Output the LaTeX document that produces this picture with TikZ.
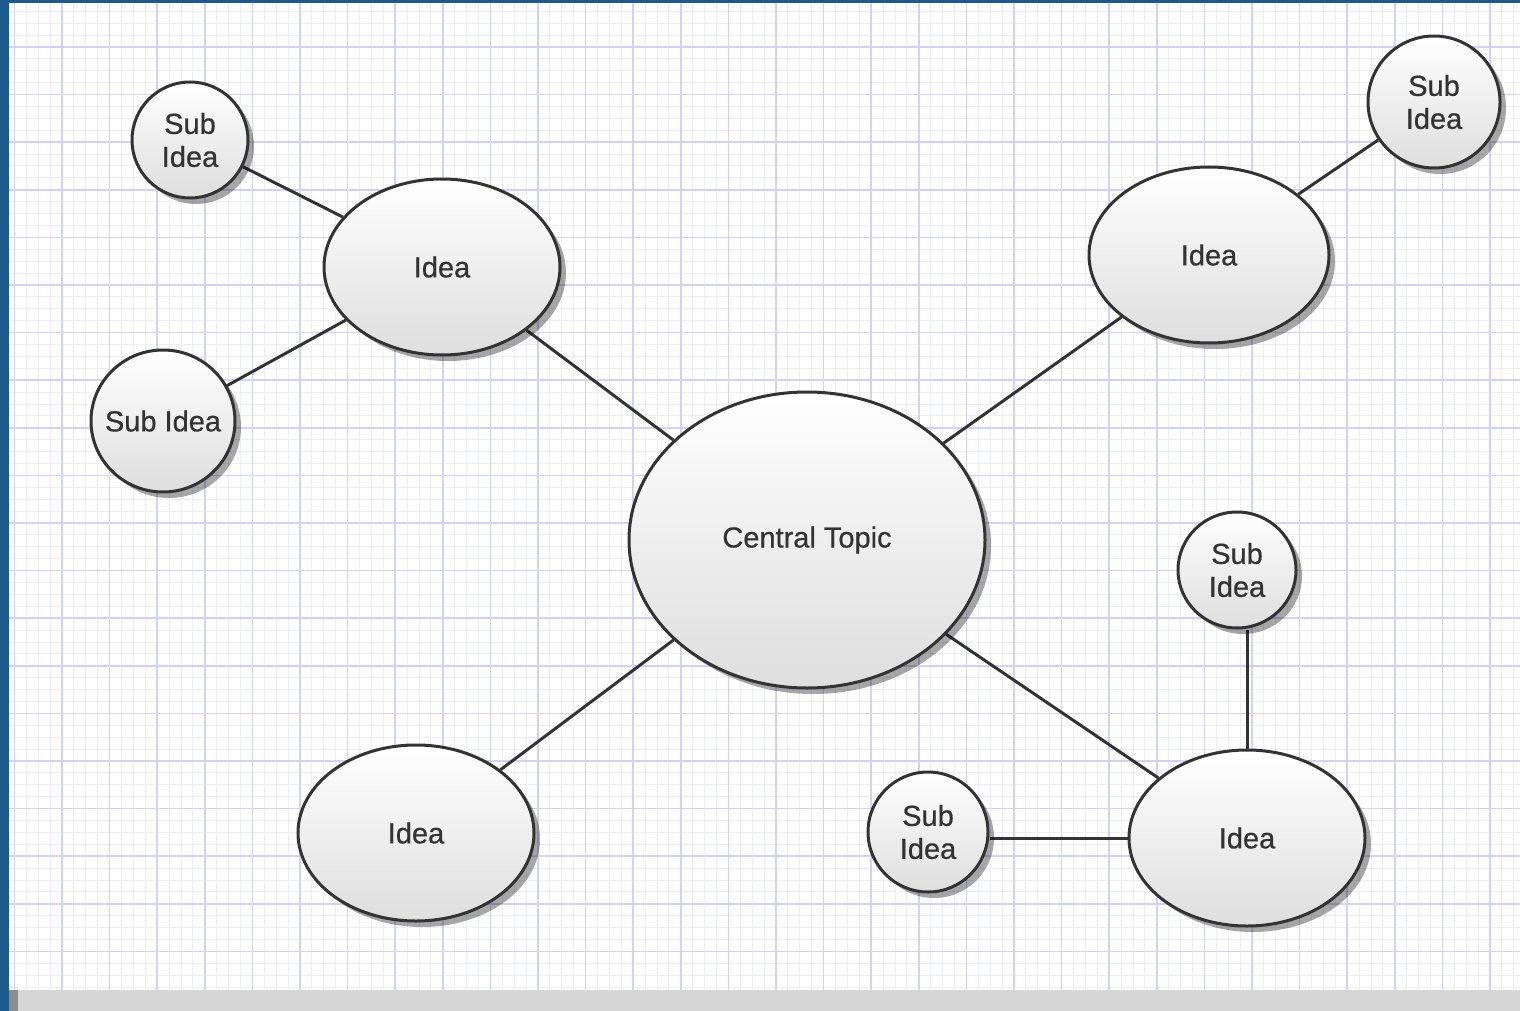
\documentclass[tikz,border=0pt]{standalone}
\usepackage{fontspec}
\setmainfont{Liberation Sans}
\newfontfamily\bubblefont[FakeBold=0.6]{Liberation Sans}
\usetikzlibrary{shapes.geometric,shadows}
\definecolor{frameblue}{HTML}{1D5A8C}
\definecolor{gridmajor}{HTML}{D2D2F4}
\definecolor{gridminor}{HTML}{EEEEFB}
\definecolor{ink}{HTML}{333333}
\pgfdeclarelayer{paper}
\pgfdeclarelayer{links}
\pgfsetlayers{paper,links,main}
\tikzset{
  bubble/.style={ellipse, draw=ink, line width=3pt, inner sep=0pt,
    top color=white, bottom color=black!13, text=black!80,
    font=\bubblefont\fontsize{29}{33}\selectfont, align=center,
    drop shadow={shadow xshift=6pt, shadow yshift=-6pt, fill=black, opacity=0.35}},
  link/.style={draw=ink, line width=3pt}
}
\begin{document}
\begin{tikzpicture}[x=1pt,y=-1pt]
\useasboundingbox (0,0) rectangle (1520,1011);

% nodes
\node[bubble, minimum width=356pt, minimum height=296pt] (central) at (807,540) {Central Topic};
\node[bubble, minimum width=236pt, minimum height=176pt] (ideaTL) at (442,267) {Idea};
\node[bubble, minimum width=240pt, minimum height=176pt] (ideaTR) at (1209,255) {Idea};
\node[bubble, minimum width=236pt, minimum height=176pt] (ideaBL) at (416,833) {Idea};
\node[bubble, minimum width=236pt, minimum height=176pt] (ideaBR) at (1247,838) {Idea};
\node[bubble, minimum width=116pt, minimum height=116pt] (subTL) at (190,140) {Sub\\Idea};
\node[bubble, minimum width=144pt, minimum height=142pt] (subL) at (163,421) {\makebox[0pt]{Sub Idea}};
\node[bubble, minimum width=132pt, minimum height=132pt] (subTR) at (1434,102) {Sub\\Idea};
\node[bubble, minimum width=118pt, minimum height=116pt] (subBRt) at (1237,570) {Sub\\Idea};
\node[bubble, minimum width=120pt, minimum height=120pt] (subBRl) at (928,832) {Sub\\Idea};

% connectors
\begin{pgfonlayer}{links}
\draw[link] (subTL) -- (ideaTL);
\draw[link] (subL) -- (ideaTL);
\draw[link] (ideaTL) -- (central);
\draw[link] (central) -- (ideaTR);
\draw[link] (ideaTR) -- (subTR);
\draw[link] (central) -- (ideaBL);
\draw[link] (central) -- (ideaBR);
\draw[link] (ideaBR.north) -- (ideaBR.north |- subBRt.south);
\draw[link] (ideaBR.west) -- (ideaBR.west -| subBRl.east);
\end{pgfonlayer}

% paper
\begin{pgfonlayer}{paper}
\fill[frameblue] (0,0) rectangle (1520,1011);
\fill[white] (9,3) rectangle (1520,990);
\begin{scope}
\clip (9,3) rectangle (1520,990);
\foreach \i in {-20,...,130} {
  \draw[gridminor, line width=1pt] ({62+\i*11.9},3) -- ({62+\i*11.9},990);
}
\foreach \i in {-8,...,90} {
  \draw[gridminor, line width=1pt] (9,{47+\i*11.9}) -- (1520,{47+\i*11.9});
}
\foreach \i in {-2,...,31} {
  \draw[gridmajor, line width=1.6pt] ({62+\i*47.6},3) -- ({62+\i*47.6},990);
}
\foreach \i in {-2,...,21} {
  \draw[gridmajor, line width=1.6pt] (9,{47+\i*47.6}) -- (1520,{47+\i*47.6});
}
\end{scope}
\fill[black!45] (9,990) rectangle (18,1011);
\fill[black!16] (18,990) rectangle (1520,1011);
\end{pgfonlayer}
\end{tikzpicture}
\end{document}
